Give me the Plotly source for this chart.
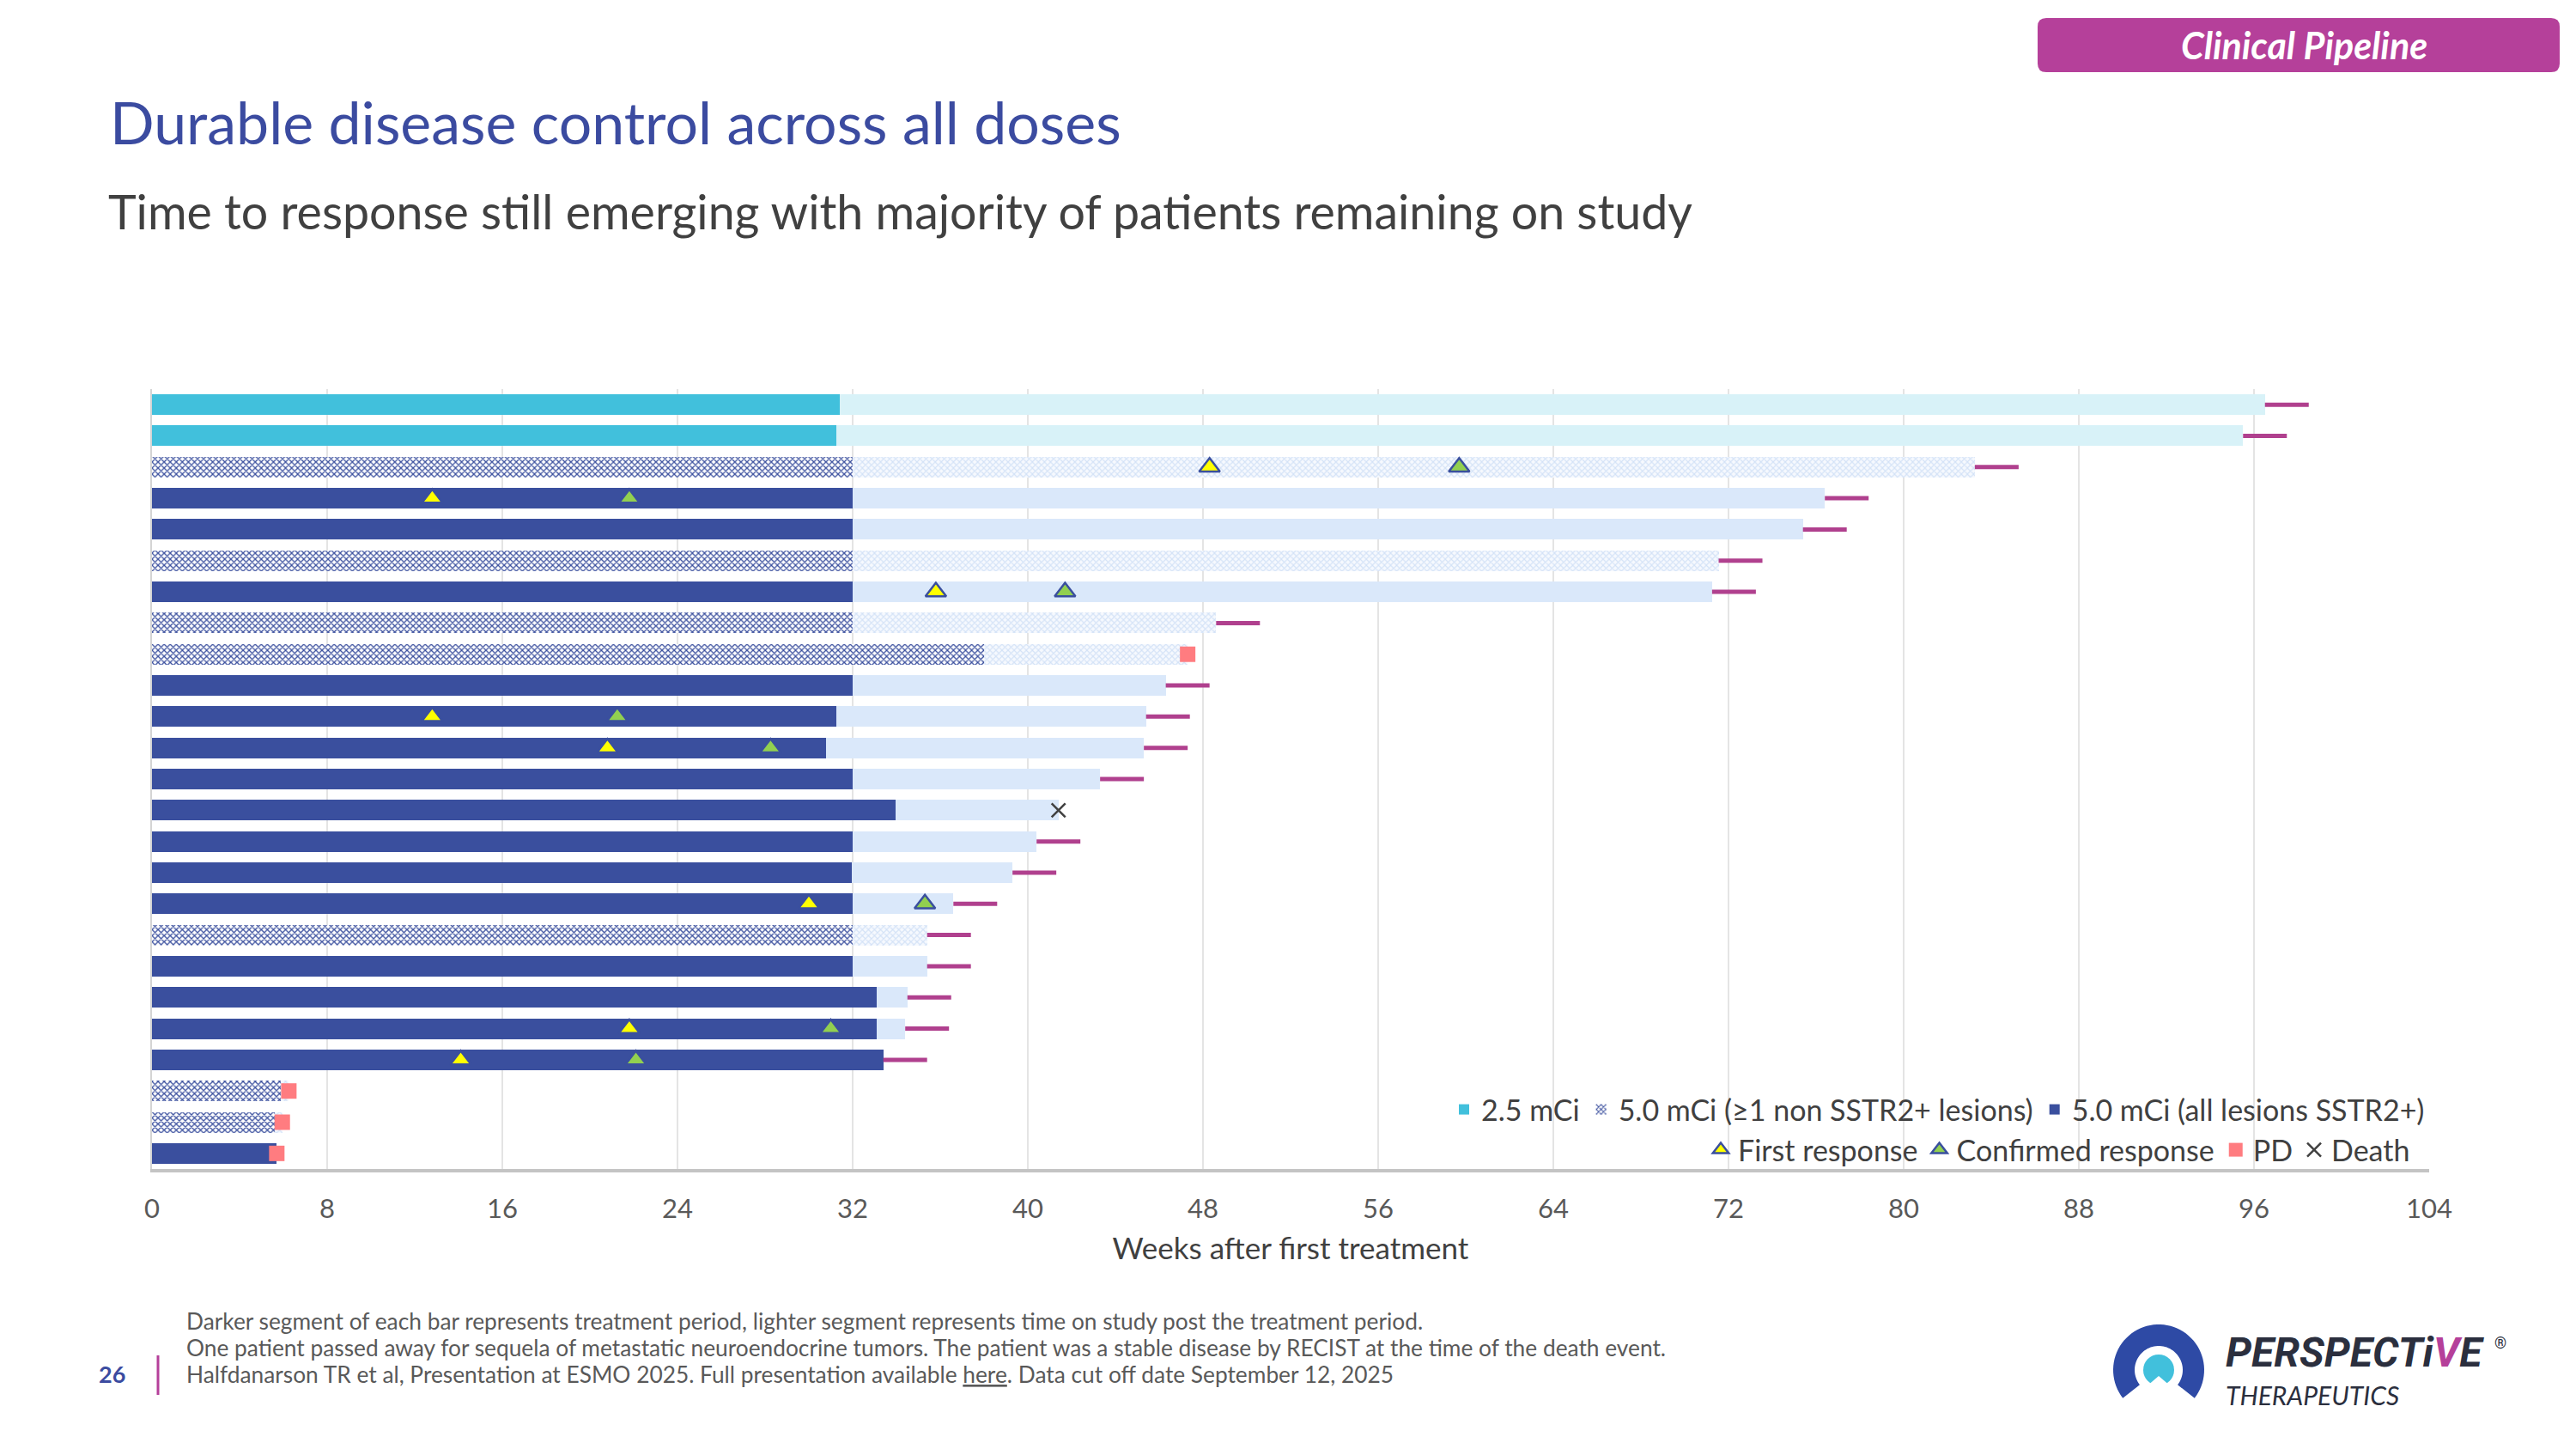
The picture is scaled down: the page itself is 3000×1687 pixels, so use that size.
import numpy as np
import plotly.graph_objects as go

# ---------------- data ----------------
patients = list(range(1, 26))  # row 1 = top bar
dose_group = ["2.5", "2.5", "non", "all", "all", "non", "all", "non", "non",
              "all", "all", "all", "all", "all", "all", "all", "all", "non", "all",
              "all", "all", "all", "non", "non", "all"]
treatment_end = [31.4, 31.25, 32.0, 32.0, 32.0, 32.0, 32.0, 32.0, 38.0,
                 32.0, 31.25, 30.8, 32.0, 33.95, 32.0, 31.95, 32.0, 32.0, 32.0,
                 33.1, 33.1, 33.4, 5.9, 5.6, 5.7]
study_end = [96.5, 95.5, 83.25, 76.4, 75.4, 71.55, 71.25, 48.6, 47.3,
             46.3, 45.4, 45.3, 43.3, 41.4, 40.4, 39.3, 36.6, 35.4, 35.4,
             34.5, 34.4, 33.4, 6.25, 5.95, 5.7]
outcome = (["ongoing"] * 8 + ["PD"] + ["ongoing"] * 4 + ["death"] +
           ["ongoing"] * 8 + ["PD"] * 3)
first_resp_patient = [3, 4, 7, 11, 12, 17, 21, 22]
first_resp_week = [48.3, 12.8, 35.8, 12.8, 20.8, 30.0, 21.8, 14.1]
conf_resp_patient = [3, 4, 7, 11, 12, 17, 21, 22]
conf_resp_week = [59.7, 21.8, 41.7, 21.25, 28.25, 35.3, 31.0, 22.1]
x_ticks = [0, 8, 16, 24, 32, 40, 48, 56, 64, 72, 80, 88, 96, 104]
group_names = {"2.5": "2.5 mCi",
               "non": "5.0 mCi (≥1 non SSTR2+ lesions)",
               "all": "5.0 mCi (all lesions SSTR2+)"}

# ---------------- styling ----------------
W, H = 3000, 1687
L, R, T, B = 177, 171, 453, 326
PW, PH = W - L - R, H - T - B
FONT = "Lato"
DARK_BLUE = "#3A4F9E"
MAGENTA = "#B0408E"
ONGOING_LEN = 2.0


def X(px):
    return (px - L) / PW


def Y(py):
    return (H - B - py) / PH


dark_marker = {
    "2.5": dict(color="#41C0DC"),
    "non": dict(color="white",
                pattern=dict(shape="x", fgcolor=DARK_BLUE, bgcolor="white",
                             size=5, solidity=0.45, fillmode="replace")),
    "all": dict(color=DARK_BLUE),
}
light_marker = {
    "2.5": dict(color="#D8F2F8"),
    "non": dict(color="white",
                pattern=dict(shape="x", fgcolor="#D3E2F7", bgcolor="#F6F9FE",
                             size=5, solidity=0.4, fillmode="replace")),
    "all": dict(color="#DAE8FA"),
}

fig = go.Figure()
BAR_W = 0.66
for g in ["2.5", "non", "all"]:
    idx = [i for i, d in enumerate(dose_group) if d == g]
    fig.add_trace(go.Bar(
        orientation="h", y=[patients[i] for i in idx],
        x=[study_end[i] - treatment_end[i] for i in idx],
        base=[treatment_end[i] for i in idx], width=BAR_W,
        marker=dict(**light_marker[g], line=dict(width=0)),
        showlegend=False, hoverinfo="skip"))
for g in ["2.5", "non", "all"]:
    idx = [i for i, d in enumerate(dose_group) if d == g]
    fig.add_trace(go.Bar(
        orientation="h", y=[patients[i] for i in idx],
        x=[treatment_end[i] for i in idx], base=[0] * len(idx), width=BAR_W,
        marker=dict(**dark_marker[g], line=dict(width=0)),
        name=group_names[g], legend="legend"))

# ongoing markers
ox, oy = [], []
for i, o in enumerate(outcome):
    if o == "ongoing":
        ox += [study_end[i], study_end[i] + ONGOING_LEN, None]
        oy += [patients[i], patients[i], None]
fig.add_trace(go.Scatter(x=ox, y=oy, mode="lines",
                         line=dict(color=MAGENTA, width=5),
                         showlegend=False, hoverinfo="skip"))

fig.add_trace(go.Scatter(
    x=first_resp_week, y=first_resp_patient, mode="markers", name="First response",
    marker=dict(symbol="triangle-up", size=21, color="#FFFF00",
                line=dict(color=DARK_BLUE, width=2.5)), legend="legend2"))
fig.add_trace(go.Scatter(
    x=conf_resp_week, y=conf_resp_patient, mode="markers", name="Confirmed response",
    marker=dict(symbol="triangle-up", size=21, color="#92D050",
                line=dict(color=DARK_BLUE, width=2.5)), legend="legend2"))
pd_idx = [i for i, o in enumerate(outcome) if o == "PD"]
fig.add_trace(go.Scatter(
    x=[study_end[i] for i in pd_idx], y=[patients[i] for i in pd_idx],
    mode="markers", name="PD",
    marker=dict(symbol="square", size=18, color="#FF7C80", line=dict(width=0)),
    legend="legend2"))
d_idx = [i for i, o in enumerate(outcome) if o == "death"]
fig.add_trace(go.Scatter(
    x=[study_end[i] for i in d_idx], y=[patients[i] for i in d_idx],
    mode="markers", name="Death",
    marker=dict(symbol="x-thin", size=16, color="#404040",
                line=dict(color="#404040", width=2.5)),
    legend="legend2"))

# ---------------- decorations ----------------
shapes = []
annotations = []


def rrect(x0, y0, x1, y1, r):
    return (f"M {X(x0 + r)},{Y(y0)} L {X(x1 - r)},{Y(y0)} Q {X(x1)},{Y(y0)} {X(x1)},{Y(y0 + r)} "
            f"L {X(x1)},{Y(y1 - r)} Q {X(x1)},{Y(y1)} {X(x1 - r)},{Y(y1)} "
            f"L {X(x0 + r)},{Y(y1)} Q {X(x0)},{Y(y1)} {X(x0)},{Y(y1 - r)} "
            f"L {X(x0)},{Y(y0 + r)} Q {X(x0)},{Y(y0)} {X(x0 + r)},{Y(y0)} Z")


shapes.append(dict(type="path", xref="paper", yref="paper",
                   path=rrect(2373, 21, 2981, 84, 10),
                   fillcolor="#B5409A", line=dict(width=0)))
annotations.append(dict(xref="paper", yref="paper", x=X(2683), y=Y(53),
                        text="<b><i>Clinical Pipeline</i></b>", showarrow=False,
                        font=dict(family=FONT, size=43, color="white"),
                        xanchor="center", yanchor="middle"))
annotations.append(dict(xref="paper", yref="paper", x=X(126), y=Y(141),
                        text="Durable disease control across all doses", showarrow=False,
                        font=dict(family=FONT, size=68, color="#3B4BA0"),
                        xanchor="left", yanchor="middle"))
annotations.append(dict(xref="paper", yref="paper", x=X(124), y=Y(245),
                        text="Time to response still emerging with majority of patients remaining on study",
                        showarrow=False,
                        font=dict(family=FONT, size=55.5, color="#404040"),
                        xanchor="left", yanchor="middle"))

foot = ["Darker segment of each bar represents treatment period, lighter segment represents time on study post the treatment period.",
        "One patient passed away for sequela of metastatic neuroendocrine tumors. The patient was a stable disease by RECIST at the time of the death event.",
        "Halfdanarson TR et al, Presentation at ESMO 2025. Full presentation available <u>here</u>. Data cut off date September 12, 2025"]
for k, line in enumerate(foot):
    annotations.append(dict(xref="paper", yref="paper", x=X(215), y=Y(1538 + 31 * k),
                            text=line, showarrow=False,
                            font=dict(family=FONT, size=26.3, color="#595959"),
                            xanchor="left", yanchor="middle"))
annotations.append(dict(xref="paper", yref="paper", x=X(130), y=Y(1599),
                        text="<b>26</b>", showarrow=False,
                        font=dict(family=FONT, size=27, color="#3B4BA0"),
                        xanchor="center", yanchor="middle"))
shapes.append(dict(type="line", xref="paper", yref="paper",
                   x0=X(184), x1=X(184), y0=Y(1578), y1=Y(1624),
                   line=dict(color="#B5409A", width=3)))

# logo
cx, cy, ro, ri = 2514, 1595, 53, 28
ang = np.deg2rad(np.linspace(-38, 218, 60))
outer = [(cx + ro * np.cos(a), cy - ro * np.sin(a)) for a in ang]
inner = [(cx + ri * np.cos(a), cy - ri * np.sin(a)) for a in ang[::-1]]
pts = outer + inner
p = "M " + " L ".join(f"{X(a)},{Y(b)}" for a, b in pts) + " Z"
shapes.append(dict(type="path", xref="paper", yref="paper", path=p,
                   fillcolor="#2E4AA5", line=dict(width=0)))
shapes.append(dict(type="circle", xref="paper", yref="paper",
                   x0=X(cx - 18), x1=X(cx + 18), y0=Y(cy - 18), y1=Y(cy + 18),
                   fillcolor="#41C0DC", line=dict(width=0)))
tri = [(cx - 14, cy + 19), (cx, cy + 7), (cx + 14, cy + 19)]
shapes.append(dict(type="path", xref="paper", yref="paper",
                   path="M " + " L ".join(f"{X(a)},{Y(b)}" for a, b in tri) + " Z",
                   fillcolor="white", line=dict(width=0)))
annotations.append(dict(xref="paper", yref="paper", x=X(2590), y=Y(1574),
                        text="<b><i>PERSPECT<span style='color:#2B2F3E'>i</span>"
                             "<span style='color:#B5409A'>V</span>E</i></b>",
                        showarrow=False,
                        font=dict(family="Roboto", size=48, color="#2B2F3E"),
                        xanchor="left", yanchor="middle"))
annotations.append(dict(xref="paper", yref="paper", x=X(2912), y=Y(1563),
                        text="®", showarrow=False,
                        font=dict(family="Roboto", size=18, color="#2B2F3E"),
                        xanchor="center", yanchor="middle"))
annotations.append(dict(xref="paper", yref="paper", x=X(2590), y=Y(1624),
                        text="<i>THERAPEUTICS</i>", showarrow=False,
                        font=dict(family="Lato", size=30, color="#2B2F3E"),
                        xanchor="left", yanchor="middle"))

fig.update_layout(
    width=W, height=H,
    margin=dict(l=L, r=R, t=T, b=B, pad=0),
    paper_bgcolor="white", plot_bgcolor="white",
    barmode="overlay", bargap=0,
    font=dict(family=FONT, color="#404040"),
    xaxis=dict(range=[0, 104], tickvals=x_ticks, showgrid=True,
               gridcolor="#E4E4E4", gridwidth=2, zeroline=False,
               showline=True, linecolor="#C4C4C4", linewidth=4,
               ticks="outside", ticklen=16, tickcolor="rgba(0,0,0,0)",
               tickfont=dict(family=FONT, size=31, color="#595959"),
               title=dict(text="Weeks after first treatment",
                          font=dict(family=FONT, size=35, color="#404040"),
                          standoff=18),
               fixedrange=True),
    yaxis=dict(range=[25.5, 0.5], showgrid=False, zeroline=False,
               showticklabels=False, ticks="", showline=True,
               linecolor="#D4D4D4", linewidth=2, fixedrange=True),
    legend=dict(orientation="h", x=1.0, xanchor="right", y=Y(1292), yanchor="middle",
                font=dict(family=FONT, size=34, color="#404040"),
                bgcolor="rgba(0,0,0,0)", traceorder="normal"),
    legend2=dict(orientation="h", x=1.0 - 17 / PW, xanchor="right", y=Y(1339), yanchor="middle",
                 font=dict(family=FONT, size=34, color="#404040"),
                 bgcolor="rgba(0,0,0,0)", traceorder="normal"),
    shapes=shapes, annotations=annotations,
)

fig.write_html("out.html", config={"displayModeBar": False},
               post_script="document.body.style.margin='0';document.body.style.overflow='hidden';")
